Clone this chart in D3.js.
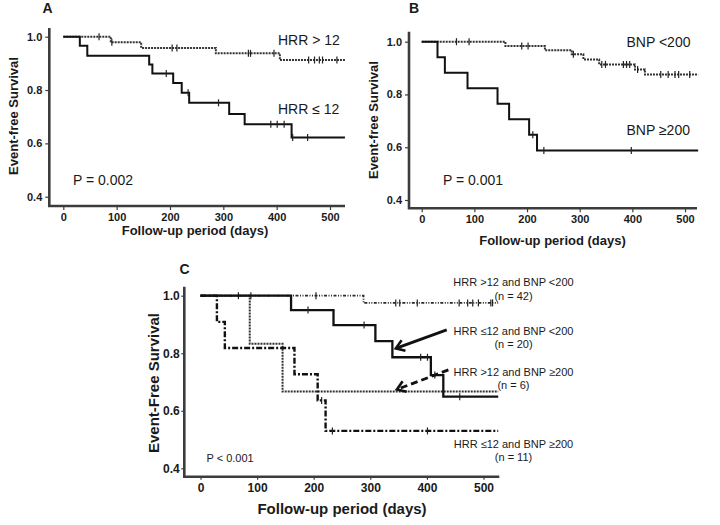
<!DOCTYPE html>
<html><head><meta charset="utf-8">
<script src="https://cdn.jsdelivr.net/npm/d3@7"></script>
<style>
html,body{margin:0;padding:0;background:#fff;}
svg{display:block;font-family:"Liberation Sans",Arial,Helvetica,sans-serif;}
</style></head>
<body>
<svg id="chart" width="720" height="525"></svg>
<script>
// ---------- DATA ----------
const xTicks = [0, 100, 200, 300, 400, 500];
const yTicks = [0.4, 0.6, 0.8, 1.0];

// Panel A
const aHighSteps = [[0,1],[89,0.979],[146,0.958],[286,0.9375],[406,0.9125]];
const aHighCensor = [67,91,204,213,347,351,395,460,471,480,486,513];
const aLowSteps = [[0,1],[31,0.966],[45,0.929],[161,0.896],[167,0.862],[206,0.826],[222,0.79],[236,0.752],[311,0.71],[340,0.672],[428,0.622]];
const aLowCensor = [193,234,291,389,401,414,430,458];
// Panel B
const bLowSteps = [[0,1],[159,0.984],[234,0.968],[285,0.952],[307,0.933],[337,0.914],[405,0.895],[424,0.876]];
const bLowCensor = [66,90,190,202,288,342,349,383,389,395,410,454,468,481,488,509];
const bHighSteps = [[0,1],[30,0.941],[44,0.882],[87,0.824],[144,0.765],[166,0.706],[204,0.647],[219,0.588]];
const bHighCensor = [211,232,398];
// Panel C
const c1Steps = [[0,1],[288,0.975]];
const c1Censor = [67,89,204,345,352,383,457,472,481,491,513,516];
const c2Steps = [[0,1],[160,0.95],[235,0.898],[309,0.842],[339,0.786],[407,0.724],[429,0.649]];
const c2Censor = [190,289,389,401,414,458];
const c3Steps = [[0,1],[87,0.833],[145,0.667]];
const c3Censor = [];
const c4Steps = [[0,1],[29,0.909],[43,0.818],[166,0.727],[207,0.636],[221,0.53]];
const c4Censor = [214,233,401];

const cLabels = [
  ["HRR >12 and BNP <200", "(n = 42)"],
  ["HRR \u226412 and BNP <200", "(n = 20)"],
  ["HRR >12 and BNP \u2265200", "(n = 6)"],
  ["HRR \u226412 and BNP \u2265200", "(n = 11)"]
];
// arrow annotations in data space: [fromDay, fromSurv, toDay, toSurv]
const cArrows = [[435,0.881,345,0.817],[438,0.742,347,0.674]];

// ---------- DRAWING ----------
const svg = d3.select("#chart");
const TXT = "#1a1a1a", AX = "#3c3c3c";

function panel(cfg){
  const x = d3.scaleLinear().domain([0,500]).range([cfg.x0, cfg.x500]);
  const y = d3.scaleLinear().domain([0.4,1.0]).range([cfg.y04, cfg.y10]);
  const g = svg.append("g");

  // series
  cfg.series.forEach(s => {
    const end = s.steps[s.steps.length-1][1];
    const pts = s.steps.concat([[cfg.endDay, end]]);
    const line = d3.line().x(d=>x(d[0])).y(d=>y(d[1])).curve(d3.curveStepAfter);
    g.append("path").attr("d", line(pts)).attr("fill","none")
      .attr("stroke", s.color).attr("stroke-width", s.width)
      .attr("stroke-dasharray", s.dash || null);
    const survAt = c => { let v = 1; s.steps.forEach(p => { if (p[0] <= c) v = p[1]; }); return v; };
    g.selectAll(null).data(s.censor).enter().append("line")
      .attr("x1", d=>x(d)).attr("x2", d=>x(d))
      .attr("y1", d=>y(survAt(d))-3.5).attr("y2", d=>y(survAt(d))+3.5)
      .attr("stroke", "#222").attr("stroke-width", 1.2);
  });

  // axes
  const ya = g.append("g").attr("transform", `translate(${cfg.left},0)`)
    .call(d3.axisLeft(y).tickValues(yTicks).tickFormat(d3.format(".1f")).tickSize(cfg.tick).tickPadding(cfg.padY));
  const xa = g.append("g").attr("transform", `translate(0,${cfg.bottom})`)
    .call(d3.axisBottom(x).tickValues(xTicks).tickSize(cfg.tick).tickPadding(cfg.padX));
  [ya, xa].forEach(a => {
    a.select(".domain").remove();
    a.selectAll(".tick line").attr("stroke", AX).attr("stroke-width", 1.2);
    a.selectAll(".tick text").attr("fill", TXT).attr("font-weight","bold")
      .attr("font-size", cfg.tickFont).attr("font-family","Liberation Sans, Arial, sans-serif");
  });
  g.append("path")
    .attr("d", `M${cfg.left},${cfg.top}V${cfg.bottom}H${cfg.right}`)
    .attr("fill","none").attr("stroke", AX).attr("stroke-width", 2.6);

  // axis titles
  g.append("text").attr("transform", `translate(${cfg.ylabX},${cfg.ylabY}) rotate(-90)`)
    .attr("text-anchor","middle").attr("font-weight","bold").attr("font-size", cfg.labFont)
    .attr("fill", TXT).text(cfg.ylab);
  g.append("text").attr("x", cfg.xlabX).attr("y", cfg.xlabY)
    .attr("text-anchor","middle").attr("font-weight","bold").attr("font-size", cfg.labFont)
    .attr("fill", TXT).text("Follow-up period (days)");
  g.append("text").attr("x", cfg.letterX).attr("y", cfg.letterY)
    .attr("font-weight","bold").attr("font-size", cfg.letterFont).attr("fill", TXT).text(cfg.letter);
  return {g, x, y};
}

const dotted = {color:"#333", width:2, dash:"2,1"};
const solid = {color:"#111", width:2};

// Panel A
const A = panel({x0:63.3, x500:330, y04:196.7, y10:36.7, left:49.3, right:345, top:28, bottom:206,
  endDay:528, tick:4, padY:3, padX:3, tickFont:11, labFont:13, letterFont:14,
  ylab:"Event-free Survival", ylabX:17.5, ylabY:116, xlabX:195, xlabY:235,
  letter:"A", letterX:42.5, letterY:13,
  series:[Object.assign({steps:aHighSteps, censor:aHighCensor}, dotted),
          Object.assign({steps:aLowSteps, censor:aLowCensor}, solid)]});
A.g.append("text").attr("x",278).attr("y",45).attr("font-size",14).attr("fill",TXT).text("HRR > 12");
A.g.append("text").attr("x",278).attr("y",113.5).attr("font-size",14).attr("fill",TXT).text("HRR \u2264 12");
A.g.append("text").attr("x",73).attr("y",185).attr("font-size",14).attr("fill",TXT).text("P = 0.002");

// Panel B
const B = panel({x0:421.7, x500:685, y04:200, y10:41.7, left:409, right:697, top:31.7, bottom:208.3,
  endDay:525, tick:4, padY:3, padX:3, tickFont:11, labFont:13, letterFont:14,
  ylab:"Event-free Survival", ylabX:377.5, ylabY:120, xlabX:552.5, xlabY:245,
  letter:"B", letterX:409, letterY:13,
  series:[Object.assign({steps:bLowSteps, censor:bLowCensor}, dotted),
          Object.assign({steps:bHighSteps, censor:bHighCensor}, solid)]});
B.g.append("text").attr("x",626.5).attr("y",46.7).attr("font-size",14).attr("fill",TXT).text("BNP <200");
B.g.append("text").attr("x",626.5).attr("y",135).attr("font-size",14).attr("fill",TXT).text("BNP \u2265200");
B.g.append("text").attr("x",443).attr("y",185).attr("font-size",14).attr("fill",TXT).text("P = 0.001");

// Panel C
const C = panel({x0:200.5, x500:483.5, y04:468.3, y10:295.7, left:184.3, right:499.3, top:286.7, bottom:476.7,
  endDay:526, tick:3, padY:1.5, padX:4, tickFont:12, labFont:15, letterFont:14,
  ylab:"Event-Free Survival", ylabX:158.5, ylabY:383, xlabX:342, xlabY:514,
  letter:"C", letterX:179.5, letterY:273.5,
  series:[{steps:c1Steps, censor:c1Censor, color:"#2a2a2a", width:1.8, dash:"3,1.5,1,1.5,1,1.5"},
          {steps:c3Steps, censor:c3Censor, color:"#333", width:2, dash:"2,1"},
          {steps:c2Steps, censor:c2Censor, color:"#111", width:2.3},
          {steps:c4Steps, censor:c4Censor, color:"#111", width:2.4, dash:"6,2,2,2"}]});
const labY = [[285.6,299.6],[334.9,348.2],[375.6,388.9],[447.9,460.6]];
cLabels.forEach((l,i) => {
  [0,1].forEach(k => C.g.append("text").attr("x",513.5).attr("y",labY[i][k])
    .attr("text-anchor","middle").attr("font-size",11).attr("fill",TXT).text(l[k]));
});
C.g.append("text").attr("x",206.5).attr("y",462.2).attr("font-size",11).attr("fill",TXT).text("P < 0.001");

cArrows.forEach((a,i) => {
  const x1=C.x(a[0]), y1=C.y(a[1]), x2=C.x(a[2]), y2=C.y(a[3]);
  const ang = Math.atan2(y2-y1, x2-x1), L = 10, sp = 0.6;
  C.g.append("line").attr("x1",x1).attr("y1",y1).attr("x2",x2-Math.cos(ang)*1.5).attr("y2",y2-Math.sin(ang)*1.5)
    .attr("stroke","#111").attr("stroke-width",2.8).attr("stroke-dasharray", i===1 ? "7,4" : null);
  const p1=[x2-L*Math.cos(ang-sp), y2-L*Math.sin(ang-sp)], p2=[x2-L*Math.cos(ang+sp), y2-L*Math.sin(ang+sp)];
  C.g.append("path").attr("d",`M${p1[0]},${p1[1]}L${x2},${y2}L${p2[0]},${p2[1]}`)
    .attr("fill","none").attr("stroke","#111").attr("stroke-width",2.6).attr("stroke-linejoin","miter");
});
</script>
</body></html>
